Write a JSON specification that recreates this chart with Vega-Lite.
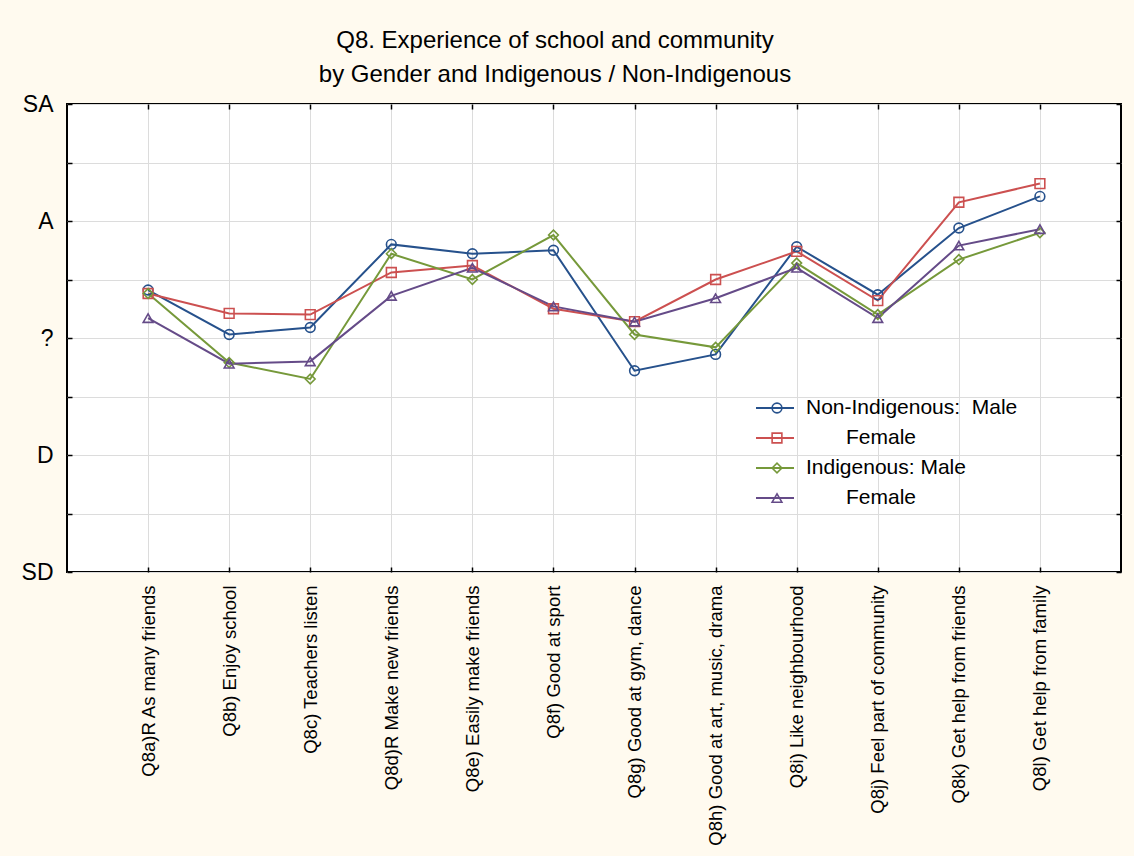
{
  "$schema": "https://vega.github.io/schema/vega-lite/v6.json",
  "autosize": {"type": "none"},
  "width": 1054,
  "height": 468,
  "padding": {"left": 67, "top": 104, "right": 13, "bottom": 284},
  "background": "#fffaef",
  "config": {
    "font": "Liberation Sans",
    "view": {"fill": "white", "stroke": "black", "strokeWidth": 2},
    "axis": {"labelFont": "Liberation Sans", "labelColor": "black"}
  },
  "title": {
    "text": ["Q8. Experience of school and community", "by Gender and Indigenous / Non-Indigenous"],
    "fontSize": 24,
    "fontWeight": "normal",
    "font": "Liberation Sans",
    "color": "black",
    "lineHeight": 34,
    "anchor": "middle",
    "dx": -39,
    "offset": 6
  },
  "data": {
    "values": [
      {"item": "Q8a)R As many friends", "series": "Non-Indigenous: Male", "value": 3.41},
      {"item": "Q8b) Enjoy school", "series": "Non-Indigenous: Male", "value": 3.03},
      {"item": "Q8c) Teachers listen", "series": "Non-Indigenous: Male", "value": 3.09},
      {"item": "Q8d)R Make new friends", "series": "Non-Indigenous: Male", "value": 3.80},
      {"item": "Q8e) Easily make friends", "series": "Non-Indigenous: Male", "value": 3.72},
      {"item": "Q8f) Good at sport", "series": "Non-Indigenous: Male", "value": 3.75},
      {"item": "Q8g) Good at gym, dance", "series": "Non-Indigenous: Male", "value": 2.72},
      {"item": "Q8h) Good at art, music, drama", "series": "Non-Indigenous: Male", "value": 2.86},
      {"item": "Q8i) Like neighbourhood", "series": "Non-Indigenous: Male", "value": 3.78},
      {"item": "Q8j) Feel part of community", "series": "Non-Indigenous: Male", "value": 3.37},
      {"item": "Q8k) Get help from friends", "series": "Non-Indigenous: Male", "value": 3.94},
      {"item": "Q8l) Get help from family", "series": "Non-Indigenous: Male", "value": 4.21},
      {"item": "Q8a)R As many friends", "series": "Non-Indigenous: Female", "value": 3.38},
      {"item": "Q8b) Enjoy school", "series": "Non-Indigenous: Female", "value": 3.21},
      {"item": "Q8c) Teachers listen", "series": "Non-Indigenous: Female", "value": 3.20},
      {"item": "Q8d)R Make new friends", "series": "Non-Indigenous: Female", "value": 3.56},
      {"item": "Q8e) Easily make friends", "series": "Non-Indigenous: Female", "value": 3.62},
      {"item": "Q8f) Good at sport", "series": "Non-Indigenous: Female", "value": 3.25},
      {"item": "Q8g) Good at gym, dance", "series": "Non-Indigenous: Female", "value": 3.14},
      {"item": "Q8h) Good at art, music, drama", "series": "Non-Indigenous: Female", "value": 3.50},
      {"item": "Q8i) Like neighbourhood", "series": "Non-Indigenous: Female", "value": 3.74},
      {"item": "Q8j) Feel part of community", "series": "Non-Indigenous: Female", "value": 3.32},
      {"item": "Q8k) Get help from friends", "series": "Non-Indigenous: Female", "value": 4.16},
      {"item": "Q8l) Get help from family", "series": "Non-Indigenous: Female", "value": 4.32},
      {"item": "Q8a)R As many friends", "series": "Indigenous: Male", "value": 3.38},
      {"item": "Q8b) Enjoy school", "series": "Indigenous: Male", "value": 2.79},
      {"item": "Q8c) Teachers listen", "series": "Indigenous: Male", "value": 2.65},
      {"item": "Q8d)R Make new friends", "series": "Indigenous: Male", "value": 3.72},
      {"item": "Q8e) Easily make friends", "series": "Indigenous: Male", "value": 3.50},
      {"item": "Q8f) Good at sport", "series": "Indigenous: Male", "value": 3.88},
      {"item": "Q8g) Good at gym, dance", "series": "Indigenous: Male", "value": 3.03},
      {"item": "Q8h) Good at art, music, drama", "series": "Indigenous: Male", "value": 2.92},
      {"item": "Q8i) Like neighbourhood", "series": "Indigenous: Male", "value": 3.64},
      {"item": "Q8j) Feel part of community", "series": "Indigenous: Male", "value": 3.20},
      {"item": "Q8k) Get help from friends", "series": "Indigenous: Male", "value": 3.67},
      {"item": "Q8l) Get help from family", "series": "Indigenous: Male", "value": 3.90},
      {"item": "Q8a)R As many friends", "series": "Indigenous: Female", "value": 3.17},
      {"item": "Q8b) Enjoy school", "series": "Indigenous: Female", "value": 2.78},
      {"item": "Q8c) Teachers listen", "series": "Indigenous: Female", "value": 2.80},
      {"item": "Q8d)R Make new friends", "series": "Indigenous: Female", "value": 3.36},
      {"item": "Q8e) Easily make friends", "series": "Indigenous: Female", "value": 3.60},
      {"item": "Q8f) Good at sport", "series": "Indigenous: Female", "value": 3.27},
      {"item": "Q8g) Good at gym, dance", "series": "Indigenous: Female", "value": 3.14},
      {"item": "Q8h) Good at art, music, drama", "series": "Indigenous: Female", "value": 3.34},
      {"item": "Q8i) Like neighbourhood", "series": "Indigenous: Female", "value": 3.60},
      {"item": "Q8j) Feel part of community", "series": "Indigenous: Female", "value": 3.17},
      {"item": "Q8k) Get help from friends", "series": "Indigenous: Female", "value": 3.79},
      {"item": "Q8l) Get help from family", "series": "Indigenous: Female", "value": 3.93}
    ]
  },
  "resolve": {
    "axis": {"x": "independent", "y": "independent"},
    "legend": {"color": "independent", "shape": "independent"}
  },
  "layer": [
    {
      "mark": {"type": "line", "strokeWidth": 2},
      "encoding": {
        "x": {
          "field": "item", "type": "nominal", "sort": null,
          "scale": {"type": "point", "padding": 1},
          "axis": {
            "title": null, "orient": "bottom", "labelAngle": -90, "labelFontSize": 18.5, "labelLimit": 0,
            "labelPadding": 18, "tickSize": -5, "tickColor": "black", "tickWidth": 1.5,
            "domain": false, "grid": true, "gridColor": "#dcdcdc", "gridWidth": 1,
            "labelAlign": "right", "labelBaseline": "middle"
          }
        },
        "y": {
          "field": "value", "type": "quantitative",
          "scale": {"domain": [1, 5], "nice": false, "zero": false},
          "axis": {
            "title": null, "orient": "left", "values": [1, 1.5, 2, 2.5, 3, 3.5, 4, 4.5, 5],
            "labelExpr": "datum.value == 5 ? 'SA' : datum.value == 4 ? 'A' : datum.value == 3 ? '?' : datum.value == 2 ? 'D' : datum.value == 1 ? 'SD' : ''",
            "labelFontSize": 23, "labelPadding": 19, "tickSize": -5, "tickColor": "black", "tickWidth": 1.5,
            "domain": false, "grid": true, "gridColor": "#dcdcdc", "gridWidth": 1
          }
        },
        "color": {
          "field": "series", "type": "nominal",
          "scale": {
            "domain": ["Non-Indigenous: Male", "Non-Indigenous: Female", "Indigenous: Male", "Indigenous: Female"],
            "range": ["#26518c", "#cc5050", "#76993a", "#654b88"]
          },
          "legend": {
            "title": null, "orient": "none", "legendX": 688, "legendY": 284,
            "symbolType": "stroke", "symbolSize": 1444, "symbolStrokeWidth": 2,
            "labelFontSize": 21, "labelColor": "black", "labelOffset": 11, "labelLimit": 0, "padding": 0,
            "rowPadding": 0,
            "labelExpr": "datum.label == 'Non-Indigenous: Male' ? 'Non-Indigenous:\u00a0 Male' : indexof(datum.label, 'Female') >= 0 ? 'Female' : datum.label",
            "encode": {
              "labels": {
                "update": {
                  "dx": {"signal": "indexof(datum.value, 'Female') >= 0 ? 40 : 0"}
                }
              }
            }
          }
        }
      }
    },
    {
      "mark": {"type": "point", "filled": false, "strokeWidth": 1.6, "size": 95, "opacity": 1},
      "encoding": {
        "x": {
          "field": "item", "type": "nominal", "sort": null,
          "axis": {
            "title": null, "orient": "top", "labels": false, "tickSize": -5, "tickColor": "black",
            "tickWidth": 1.5, "domain": false, "grid": false
          }
        },
        "y": {
          "field": "value", "type": "quantitative",
          "axis": {
            "title": null, "orient": "right", "labels": false, "values": [1, 1.5, 2, 2.5, 3, 3.5, 4, 4.5, 5],
            "tickSize": -5, "tickColor": "black", "tickWidth": 1.5, "domain": false, "grid": false
          }
        },
        "color": {
          "field": "series", "type": "nominal",
          "legend": {
            "title": null, "orient": "none", "legendX": 700, "legendY": 294,
            "symbolSize": 95, "symbolStrokeWidth": 1.6, "labelFontSize": 20, "labelExpr": "''",
            "padding": 0, "rowPadding": 10
          }
        },
        "shape": {
          "field": "series", "type": "nominal",
          "scale": {
            "domain": ["Non-Indigenous: Male", "Non-Indigenous: Female", "Indigenous: Male", "Indigenous: Female"],
            "range": ["circle", "square", "diamond", "triangle-up"]
          }
        }
      }
    }
  ]
}
